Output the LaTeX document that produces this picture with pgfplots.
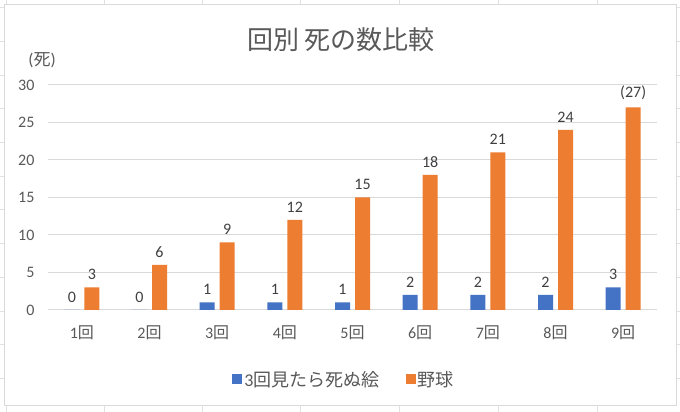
\documentclass[border=0pt]{standalone}
\usepackage{pgfplots}
\pgfplotsset{compat=1.18}
\usepackage{fontspec}
\setmainfont{Carlito}
\newfontfamily\jp{Noto Sans CJK JP}
\definecolor{txt}{HTML}{595959}
\definecolor{lbl}{HTML}{404040}
\definecolor{gridc}{HTML}{D9D9D9}
\definecolor{sheet}{HTML}{E1E1E1}
\definecolor{xlblue}{HTML}{4472C4}
\definecolor{xlorange}{HTML}{ED7D31}
\begin{document}
\begin{tikzpicture}[x=1pt,y=1pt]
\useasboundingbox (0,0) rectangle (680,412);
\fill[white] (0,0) rectangle (680,412);
% spreadsheet cells behind the chart
\foreach \x in {6,104,202,300,399,498,597}
  \draw[sheet,line width=1pt] (\x,0) -- (\x,412);
\foreach \y in {8,41.7,75.4,109,142.8,176.5,210,244,278,311.6,345,379}
  \draw[sheet,line width=1pt] (0,412-\y) -- (680,412-\y);
% chart area
\draw[gridc,fill=white,line width=1pt] (4,6) rectangle (676,407);
\node[txt,font=\jp\fontsize{26}{26}\selectfont] at (341,412-40) {回別 死の数比較};
\node[txt,font=\fontsize{17}{17}\selectfont] at (42,412-60) {({\jp 死})};
\begin{axis}[
    at={(48pt,102pt)}, anchor=south west,
    scale only axis, width=609pt, height=225pt,
    ybar=5pt, bar width=15pt,
    xmin=-0.5, xmax=8.5, ymin=0, ymax=30,
    axis line style={draw=none},
    ytick={0,5,...,30},
    ymajorgrids, grid style={gridc, line width=1pt},
    xtick={0,...,8},
    xticklabels={1{\jp 回},2{\jp 回},3{\jp 回},4{\jp 回},5{\jp 回},6{\jp 回},7{\jp 回},8{\jp 回},9{\jp 回}},
    major tick length=0pt,
    /pgf/number format/assume math mode=true,
    tick label style={txt, font=\fontsize{16}{16}\selectfont},
    yticklabel style={xshift=-10pt},
    xticklabel style={yshift=-12pt},
    point meta=explicit symbolic,
    nodes near coords,
    nodes near coords style={lbl, font=\fontsize{16}{16}\selectfont, yshift=4pt},
    legend columns=2,
    legend style={draw=none, fill=none, at={(0.486,-0.311)}, anchor=center,
      font=\fontsize{18}{18}\selectfont, text=txt,
      /tikz/every even column/.append style={column sep=24pt}},
    legend image code/.code={\fill[#1,draw=none] (0pt,-4pt) rectangle (10pt,6pt);},
]
\addplot[fill=xlblue, draw=none] coordinates {
  (0,0) [0]
  (1,0) [0]
  (2,1) [1]
  (3,1) [1]
  (4,1) [1]
  (5,2) [2]
  (6,2) [2]
  (7,2) [2]
  (8,3) [3]
};
\addlegendentry{3{\jp 回見たら死ぬ絵}}
\addplot[fill=xlorange, draw=none] coordinates {
  (0,3) [3]
  (1,6) [6]
  (2,9) [9]
  (3,12) [12]
  (4,15) [15]
  (5,18) [18]
  (6,21) [21]
  (7,24) [24]
  (8,27) [(27)]
};
\addlegendentry{{\jp 野球}}
\end{axis}
\end{tikzpicture}
\end{document}
